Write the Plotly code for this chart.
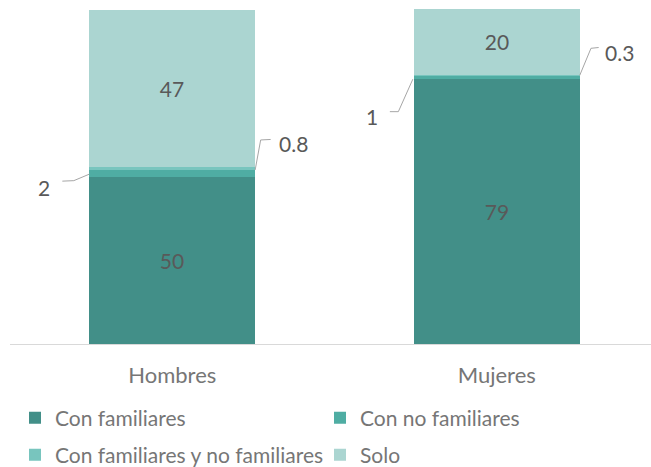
import plotly.graph_objects as go

# ---------------- data ----------------
categories = ["Hombres", "Mujeres"]
series_names = ["Con familiares", "Con no familiares",
                "Con familiares y no familiares", "Solo"]
con_familiares = [50, 79]
con_no_familiares = [2, 1]
con_familiares_y_no_familiares = [0.8, 0.3]
solo = [47, 20]

# ---------------- styles / layout ----------------
colors = ["#428F88", "#4FADA3", "#78C5BE", "#ABD5D1"]
label_color = "#595959"
axis_text_color = "#767676"
leader_color = "#A6A6A6"
FONT = "Lato"
W, H = 651, 467
ML, MR, MT, MB = 10, 0, 9, 123
X_RANGE = [-0.5, 1.4753]
Y_RANGE = [0, 100]
BAR_W = 0.511
PX_X = (W - ML - MR) / (X_RANGE[1] - X_RANGE[0])
PX_Y = (H - MT - MB) / (Y_RANGE[1] - Y_RANGE[0])

values = [con_familiares, con_no_familiares, con_familiares_y_no_familiares, solo]
inside_label = [True, False, False, True]
legend_of = ["legend", "legend", "legend2", "legend2"]
xs = list(range(len(categories)))

fig = go.Figure()
for name, vals, col, show_in, lg in zip(series_names, values, colors, inside_label, legend_of):
    fig.add_trace(go.Bar(
        x=xs, y=vals, name=name, width=BAR_W,
        marker=dict(color=col, line=dict(width=0)),
        text=[f"{v:g}" for v in vals] if show_in else None,
        textposition="inside" if show_in else "none",
        insidetextanchor="middle", textangle=0,
        textfont=dict(family=FONT, size=21, color=label_color),
        legend=lg,
    ))

# callouts for the thin segments: (series idx, category idx, side, leader path offsets px, label offset px, label anchor)
callouts = [
    (1, 0, -1, [(0, 1), (-15.5, 7.5), (-27, 8)], (-45, 14), "center"),
    (2, 0, 1, [(0, 1.5), (5.5, -28.5), (15.5, -29)], (22, -24.5), "left"),
    (1, 1, -1, [(-1, 1.5), (-15.5, 34), (-24, 34)], (-42, 38.6), "center"),
    (2, 1, 1, [(0, 0), (11.3, -27.2), (19, -28)], (23.3, -22.7), "left"),
]

shapes, annotations = [], []
for si, ci, side, path_off, lab_off, anchor in callouts:
    base = sum(values[k][ci] for k in range(si))
    ax = xs[ci] + side * BAR_W / 2
    ay = base + values[si][ci] / 2
    pts = [(ax + dx / PX_X, ay - dy / PX_Y) for dx, dy in path_off]
    path = "M" + " L".join(f"{px:.5f},{py:.5f}" for px, py in pts)
    shapes.append(dict(type="path", path=path, xref="x", yref="y",
                       line=dict(color=leader_color, width=1)))
    annotations.append(dict(
        x=ax + lab_off[0] / PX_X, y=ay - lab_off[1] / PX_Y, xref="x", yref="y",
        text=f"{values[si][ci]:g}", showarrow=False, xanchor=anchor, yanchor="middle",
        font=dict(family=FONT, size=21, color=label_color),
    ))

legend_common = dict(orientation="h", xanchor="left", yanchor="middle",
                     entrywidth=260, entrywidthmode="pixels", itemwidth=30,
                     font=dict(family=FONT, size=21, color=axis_text_color),
                     bgcolor="rgba(0,0,0,0)", traceorder="normal")

fig.update_layout(
    width=W, height=H, barmode="stack",
    margin=dict(l=ML, r=MR, t=MT, b=MB, autoexpand=False),
    paper_bgcolor="white", plot_bgcolor="white",
    font=dict(family=FONT, color=axis_text_color),
    showlegend=True,
    legend=dict(x=(15 - ML) / (W - ML - MR), y=(MT + (H - MT - MB) - 418) / (H - MT - MB), **legend_common),
    legend2=dict(x=(15 - ML) / (W - ML - MR), y=(MT + (H - MT - MB) - 455) / (H - MT - MB), **legend_common),
    xaxis=dict(range=X_RANGE, tickvals=xs, ticktext=categories, showgrid=False,
               zeroline=False, showline=True, linecolor="#D9D9D9", linewidth=1,
               ticks="", tickfont=dict(family=FONT, size=22, color=axis_text_color),
               ticklabelstandoff=12, automargin=False),
    yaxis=dict(range=Y_RANGE, visible=False, showgrid=False, zeroline=False, automargin=False),
    shapes=shapes, annotations=annotations,
    bargap=0,
)

fig.write_html("out.html", config={"displayModeBar": False},
               post_script="document.body.style.margin='0';document.body.style.overflow='hidden';")
